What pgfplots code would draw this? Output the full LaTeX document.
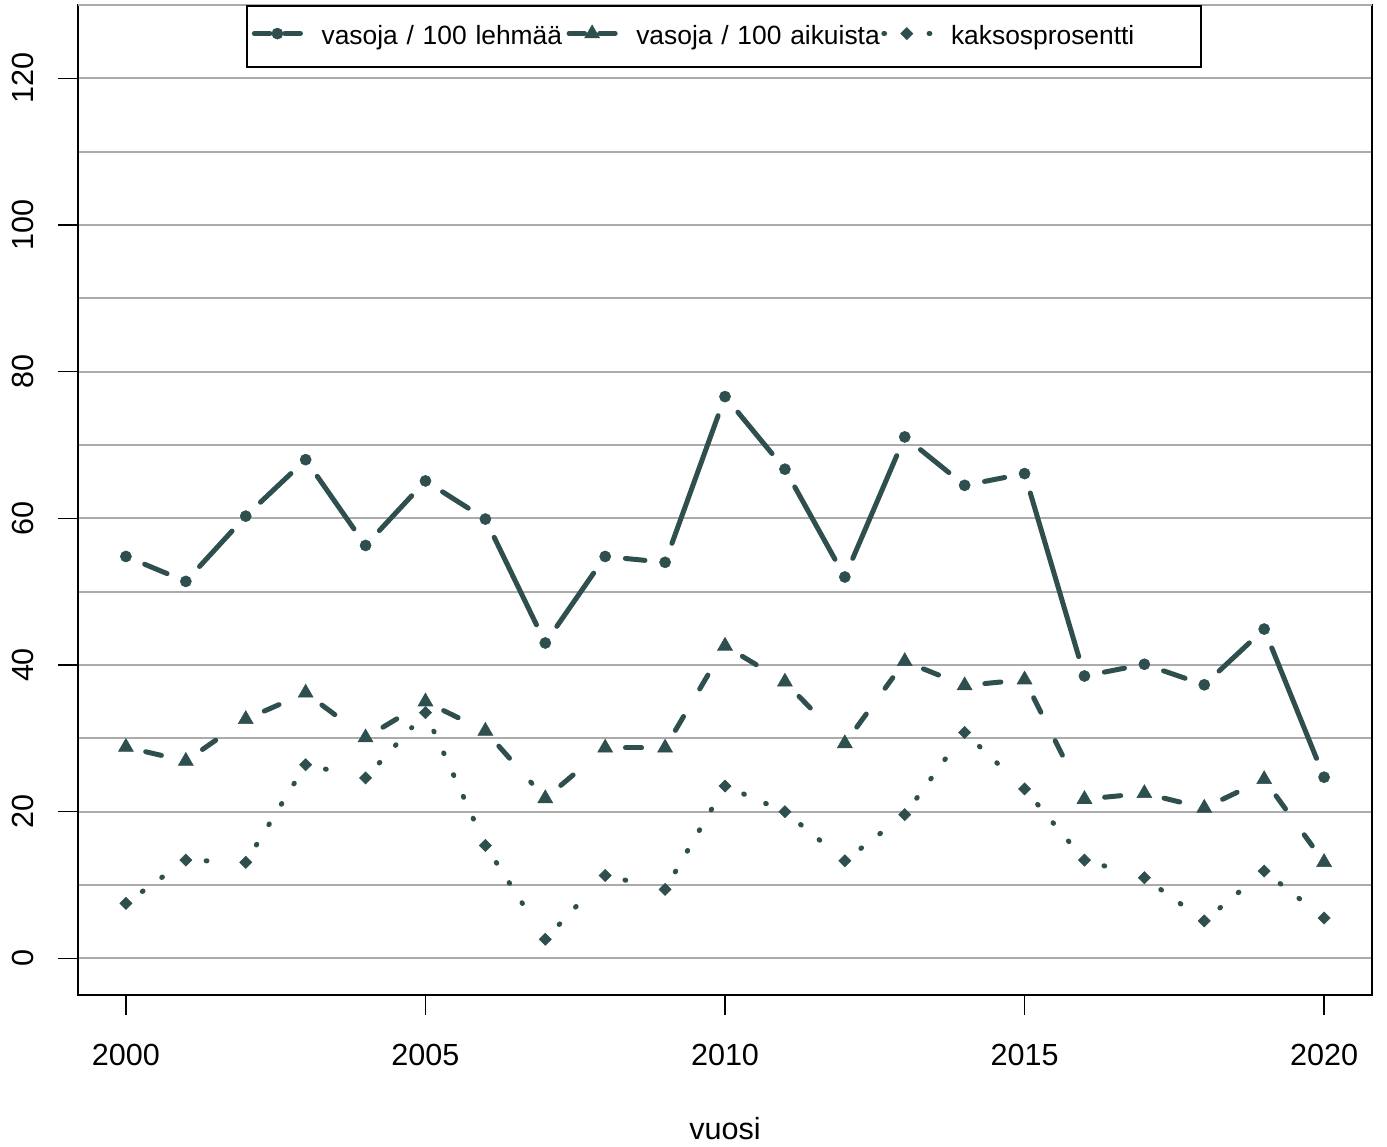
\documentclass[border=0pt]{standalone}
\usepackage{fontspec}
\setmainfont{Liberation Sans}
\usepackage{pgfplots}
\usepackage{pgfplotstable}
\pgfplotsset{compat=1.18}

\definecolor{dsg}{HTML}{2F4F4F}
\definecolor{gridgray}{HTML}{ABABAB}

% vasoja / 100 lehmaa, vasoja / 100 aikuista, kaksosprosentti
\pgfplotstableread{
year lehma aikuis kaksos
2000 54.8 28.8 7.5
2001 51.4 26.9 13.4
2002 60.3 32.6 13.1
2003 68.0 36.2 26.4
2004 56.3 30.1 24.6
2005 65.1 35.0 33.5
2006 59.9 31.0 15.4
2007 43.0 21.8 2.6
2008 54.8 28.7 11.3
2009 54.0 28.7 9.4
2010 76.6 42.6 23.5
2011 66.7 37.7 20.0
2012 52.0 29.3 13.3
2013 71.1 40.5 19.6
2014 64.5 37.2 30.8
2015 66.1 38.0 23.1
2016 38.5 21.7 13.4
2017 40.1 22.5 11.0
2018 37.3 20.5 5.1
2019 44.9 24.4 11.9
2020 24.7 13.1 5.5
}\vasat

\tikzset{
  s1/.style={color=dsg, line width=1.8pt, line cap=round, solid},
  s2/.style={color=dsg, line width=1.8pt, line cap=round, dash pattern=on 5.8pt off 11.5pt},
  s3/.style={color=dsg, line width=1.8pt, line cap=round, dash pattern=on 0.3pt off 8.3pt},
  gap/.style={shorten <=7.3pt, shorten >=7.3pt},
  m1/.style={color=dsg, mark=*, mark size=2pt, mark options={solid, line width=0.2pt}},
  m2/.style={color=dsg, mark=triangle*, mark size=3.1pt, mark options={solid, line width=0.2pt}},
  m3/.style={color=dsg, mark=square*, mark size=1.55pt, mark options={solid, rotate=45, line width=0.2pt}},
}
\pgfplotsset{
  % keep only rows #1 and #1+1
  seg/.style={x filter/.append code={%
    \ifnum\coordindex<#1 \def\pgfmathresult{}\fi
    \ifnum\coordindex>\numexpr#1+1\relax \def\pgfmathresult{}\fi}},
  legimg/.style={legend image code/.code={
    \draw[##1, mark=none] (0pt,4pt) -- (5.6pt,4pt);
    \draw[##1, mark=none] (16.6pt,4pt) -- (11pt,4pt);
    \draw[##1] plot coordinates {(8.3pt,4pt)};
    \path[draw=none, fill=none] (-0.9pt,4pt) -- (24.2pt,4pt);
  }},
}

\begin{document}
\begin{tikzpicture}
\begin{axis}[
  scale only axis,
  width=465.84pt, height=356.4pt,
  xmin=1999.2, xmax=2020.8,
  ymin=-5, ymax=130,
  xtick={2000,2005,...,2020},
  ytick={0,20,...,120},
  minor y tick num=1,
  ymajorgrids, yminorgrids,
  grid style={draw=gridgray, line width=0.7pt},
  minor tick length=0pt,
  major tick length=7.2pt,
  tick align=outside,
  tick pos=left,
  tick style={black, line width=0.5pt},
  axis line style={line width=0.7pt},
  /pgf/number format/assume math mode=true,
  /pgf/number format/1000 sep={},
  tick label style={font=\fontsize{11}{13}\selectfont},
  xticklabel style={anchor=base},
  xticklabel shift=18pt,
  yticklabel style={rotate=90, anchor=base},
  yticklabel shift=9pt,
  xlabel={vuosi},
  xlabel style={at={(axis description cs:0.5,0)}, anchor=base, yshift=-52pt,
    font=\fontsize{11}{13}\selectfont},
  legend columns=3,
  legend style={
    at={(axis description cs:0.12983,1)}, anchor=north west,
    draw=black, line width=0.6pt, fill=white,
    inner xsep=1.8pt, inner ysep=6.5pt,
    column sep=0pt,
    font=\fontsize{9.5}{11}\selectfont,
    cells={anchor=base},
    nodes={inner sep=0pt, text width=88.2pt, align=left, anchor=base,
      text height=7.5pt, text depth=1.5pt},
  },
]

% line pieces, one per year step, with R-style gaps round the points
\pgfplotsinvokeforeach{0,...,19}{
  \addplot[s1, gap, forget plot] table[x=year, y=lehma, seg=#1] {\vasat};
  \addplot[s2, gap, forget plot] table[x=year, y=aikuis, seg=#1] {\vasat};
  \addplot[s3, gap, forget plot] table[x=year, y=kaksos, seg=#1] {\vasat};
}

% points
\addplot[only marks, m1, forget plot] table[x=year, y=lehma] {\vasat};
\addplot[only marks, m2, forget plot] table[x=year, y=aikuis] {\vasat};
\addplot[only marks, m3, forget plot] table[x=year, y=kaksos] {\vasat};

% the top edge of the frame is grey in the original
\draw[gridgray, line width=0.7pt] (rel axis cs:0,1) -- (rel axis cs:1,1);

\addlegendimage{s1, m1, legimg}
\addlegendentry{vasoja / 100 lehmää}
\addlegendimage{s2, m2, legimg}
\addlegendentry{vasoja / 100 aikuista}
\addlegendimage{s3, m3, legimg}
\addlegendentry{kaksosprosentti}

\end{axis}
\pgfresetboundingbox
\path ([shift={(-28.08pt,-54.36pt)}]current axis.south west)
  rectangle ([shift={(5.4pt,1.8pt)}]current axis.north east);
\end{tikzpicture}
\end{document}
